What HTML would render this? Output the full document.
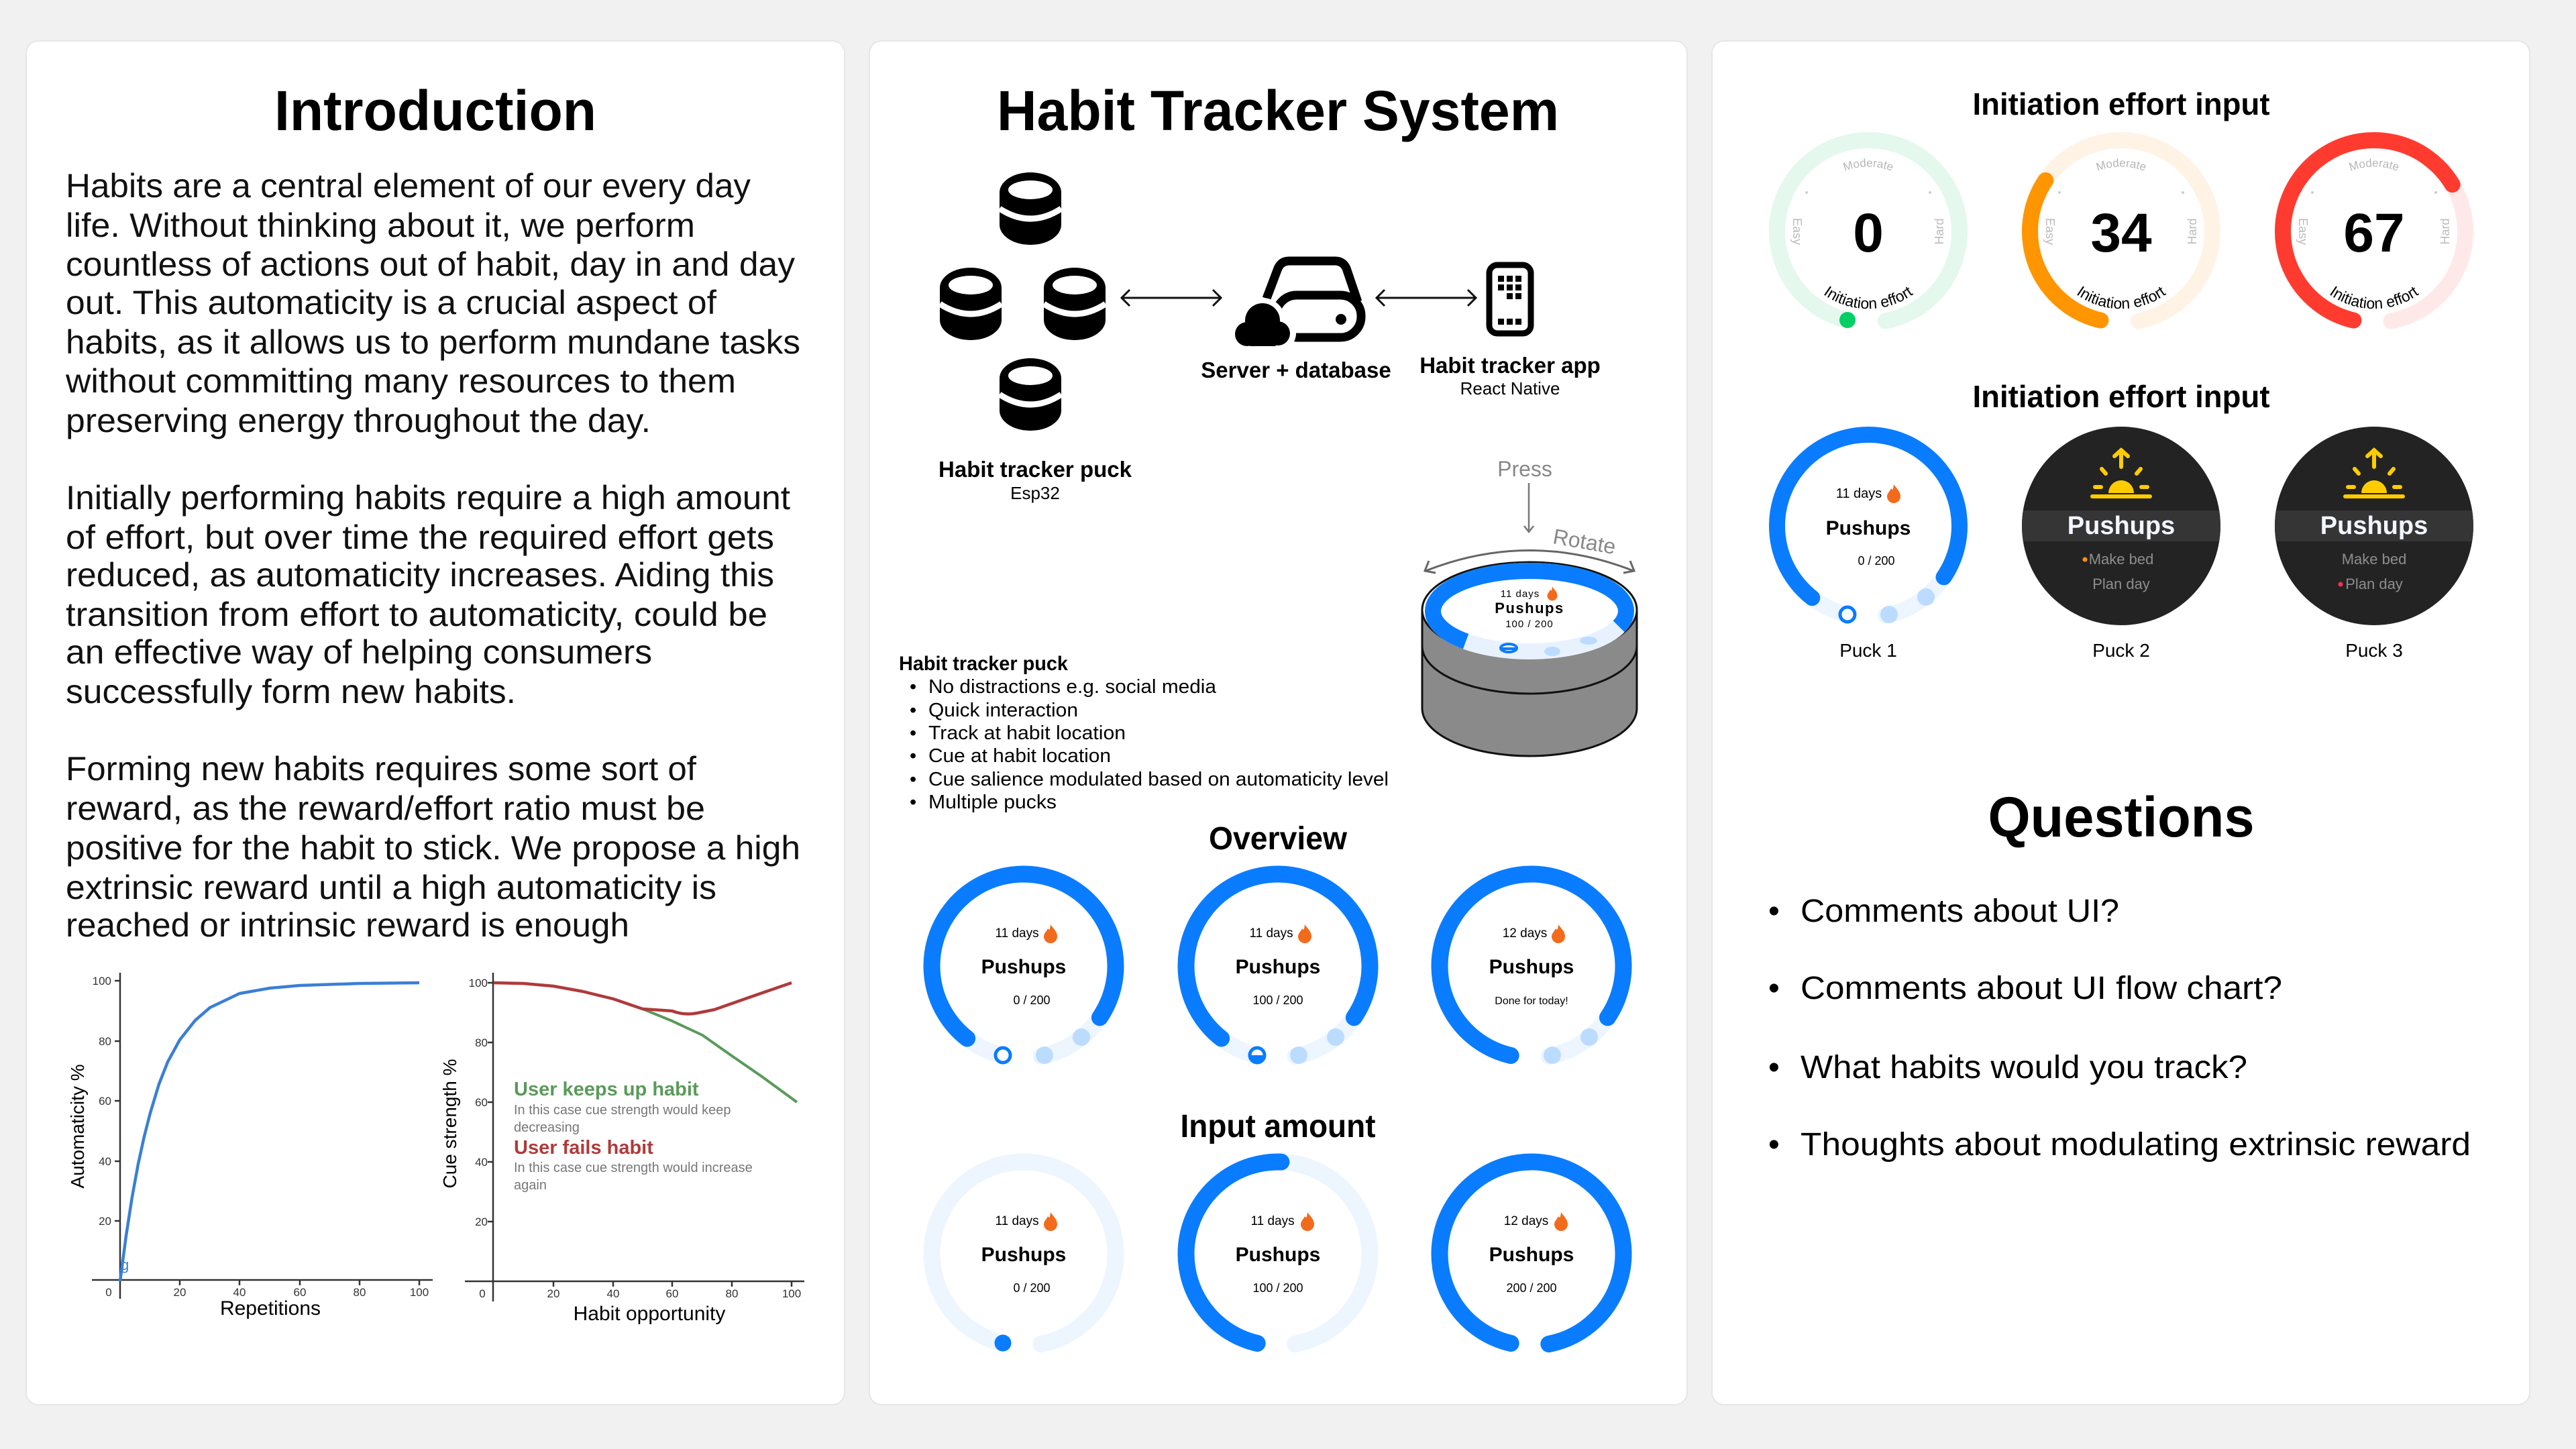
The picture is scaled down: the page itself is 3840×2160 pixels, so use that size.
<!DOCTYPE html>
<html><head><meta charset="utf-8">
<style>
html,body{margin:0;padding:0;background:#f1f1f1;}
svg{display:block;font-family:"Liberation Sans",sans-serif;}
</style></head>
<body>
<svg width="3840" height="2160" viewBox="0 0 3840 2160" xmlns="http://www.w3.org/2000/svg">
<defs>
<path id="flame" d="M0,-14 C3,-9 10,-4 10,4 A10 10 0 0 1 -10 4 C-10,-1 -6,-3 -4,-8 C-2,-5 -1,-5 0,-14Z" fill="#f26b1d"/>
<g id="db">
 <rect x="-46" y="-54" width="92" height="108" rx="46" ry="30" fill="#000"/>
 <ellipse cx="0" cy="-28" rx="33" ry="14" fill="#fff"/>
 <path d="M-46,0 Q0,30 46,0" stroke="#fff" stroke-width="9" fill="none"/>
</g>
<clipPath id="cp"><circle cx="0" cy="0" r="148"/></clipPath>
</defs>

<rect width="3840" height="2160" fill="#f1f1f1"/>
<rect x="39" y="61" width="1220" height="2033" rx="18" fill="#fff" stroke="#e6e6e6" stroke-width="2"/>
<rect x="1296" y="61" width="1219" height="2033" rx="18" fill="#fff" stroke="#e6e6e6" stroke-width="2"/>
<rect x="2552" y="61" width="1219" height="2033" rx="18" fill="#fff" stroke="#e6e6e6" stroke-width="2"/>

<!-- PANEL 1 -->
<text x="649" y="194" font-size="84" font-weight="bold" text-anchor="middle" textLength="480" lengthAdjust="spacingAndGlyphs">Introduction</text>
<g font-size="50" fill="#111">
<text x="98" y="294" textLength="1021" lengthAdjust="spacingAndGlyphs">Habits are a central element of our every day</text>
<text x="98" y="353" textLength="938" lengthAdjust="spacingAndGlyphs">life. Without thinking about it, we perform</text>
<text x="98" y="411" textLength="1087" lengthAdjust="spacingAndGlyphs">countless of actions out of habit, day in and day</text>
<text x="98" y="468" textLength="970" lengthAdjust="spacingAndGlyphs">out. This automaticity is a crucial aspect of</text>
<text x="98" y="527" textLength="1095" lengthAdjust="spacingAndGlyphs">habits, as it allows us to perform mundane tasks</text>
<text x="98" y="585" textLength="999" lengthAdjust="spacingAndGlyphs">without committing many resources to them</text>
<text x="98" y="644" textLength="872" lengthAdjust="spacingAndGlyphs">preserving energy throughout the day.</text>
<text x="98" y="759" textLength="1080" lengthAdjust="spacingAndGlyphs">Initially performing habits require a high amount</text>
<text x="98" y="818" textLength="1056" lengthAdjust="spacingAndGlyphs">of effort, but over time the required effort gets</text>
<text x="98" y="874" textLength="1056" lengthAdjust="spacingAndGlyphs">reduced, as automaticity increases. Aiding this</text>
<text x="98" y="933" textLength="1046" lengthAdjust="spacingAndGlyphs">transition from effort to automaticity, could be</text>
<text x="98" y="989" textLength="874" lengthAdjust="spacingAndGlyphs">an effective way of helping consumers</text>
<text x="98" y="1048" textLength="671" lengthAdjust="spacingAndGlyphs">successfully form new habits.</text>
<text x="98" y="1163" textLength="940" lengthAdjust="spacingAndGlyphs">Forming new habits requires some sort of</text>
<text x="98" y="1222" textLength="953" lengthAdjust="spacingAndGlyphs">reward, as the reward/effort ratio must be</text>
<text x="98" y="1281" textLength="1095" lengthAdjust="spacingAndGlyphs">positive for the habit to stick. We propose a high</text>
<text x="98" y="1340" textLength="970" lengthAdjust="spacingAndGlyphs">extrinsic reward until a high automaticity is</text>
<text x="98" y="1396" textLength="840" lengthAdjust="spacingAndGlyphs">reached or intrinsic reward is enough</text>
</g>

<!-- Left chart -->
<g stroke="#333" stroke-width="2.5" fill="none">
<line x1="179" y1="1450" x2="179" y2="1936"/>
<line x1="137" y1="1908" x2="645" y2="1908"/>
<line x1="171" y1="1462" x2="179" y2="1462"/><line x1="171" y1="1552" x2="179" y2="1552"/><line x1="171" y1="1641" x2="179" y2="1641"/><line x1="171" y1="1731" x2="179" y2="1731"/><line x1="171" y1="1820" x2="179" y2="1820"/>
<line x1="268" y1="1908" x2="268" y2="1916"/><line x1="357" y1="1908" x2="357" y2="1916"/><line x1="447" y1="1908" x2="447" y2="1916"/><line x1="536" y1="1908" x2="536" y2="1916"/><line x1="625" y1="1908" x2="625" y2="1916"/>
</g>
<g font-size="17" fill="#333" text-anchor="end">
<text x="166" y="1468">100</text><text x="166" y="1558">80</text><text x="166" y="1647">60</text><text x="166" y="1737">40</text><text x="166" y="1826">20</text>
</g>
<g font-size="17" fill="#333" text-anchor="middle">
<text x="162" y="1932">0</text><text x="268" y="1932">20</text><text x="357" y="1932">40</text><text x="447" y="1932">60</text><text x="536" y="1932">80</text><text x="625" y="1932">100</text>
</g>
<path d="M179,1910 L188,1842 L197,1784 L206,1735 L215,1694 L224,1659 L237,1616 L250,1583 L268,1550 L291,1521 L313,1502 L357,1481 L402,1473 L447,1469 L536,1466 L625,1465" stroke="#3a7fd5" stroke-width="4.5" fill="none" stroke-linejoin="round"/>
<text x="180" y="1893" font-size="22" fill="#3a7fd5">g</text>
<text transform="translate(125,1679) rotate(-90)" font-size="28" text-anchor="middle">Automaticity %</text>
<text x="403" y="1960" font-size="30" text-anchor="middle">Repetitions</text>

<!-- Right chart -->
<g stroke="#333" stroke-width="2.5" fill="none">
<line x1="735" y1="1450" x2="735" y2="1940"/>
<line x1="693" y1="1910" x2="1199" y2="1910"/>
<line x1="727" y1="1465" x2="735" y2="1465"/><line x1="727" y1="1554" x2="735" y2="1554"/><line x1="727" y1="1643" x2="735" y2="1643"/><line x1="727" y1="1732" x2="735" y2="1732"/><line x1="727" y1="1821" x2="735" y2="1821"/>
<line x1="825" y1="1910" x2="825" y2="1918"/><line x1="914" y1="1910" x2="914" y2="1918"/><line x1="1002" y1="1910" x2="1002" y2="1918"/><line x1="1091" y1="1910" x2="1091" y2="1918"/><line x1="1180" y1="1910" x2="1180" y2="1918"/>
</g>
<g font-size="17" fill="#333" text-anchor="end">
<text x="727" y="1471">100</text><text x="727" y="1560">80</text><text x="727" y="1649">60</text><text x="727" y="1738">40</text><text x="727" y="1827">20</text>
</g>
<g font-size="17" fill="#333" text-anchor="middle">
<text x="719" y="1934">0</text><text x="825" y="1934">20</text><text x="914" y="1934">40</text><text x="1002" y="1934">60</text><text x="1091" y="1934">80</text><text x="1180" y="1934">100</text>
</g>
<path d="M736,1465 L780,1466 L825,1470 L869,1478 L914,1489 L958,1504 L1002,1522 L1047,1543 L1091,1574 L1136,1605 L1188,1643" stroke="#5a9a5a" stroke-width="4" fill="none" stroke-linejoin="round"/>
<path d="M736,1465 L780,1466 L825,1470 L869,1478 L914,1489 L958,1504 L1002,1507 Q1020,1514 1040,1510 L1065,1505 L1122,1485 L1180,1465" stroke="#b03a3a" stroke-width="4.5" fill="none" stroke-linejoin="round"/>
<text x="766" y="1633" font-size="29" font-weight="bold" fill="#5a9a5a">User keeps up habit</text>
<text x="766" y="1661" font-size="20" fill="#777">In this case cue strength would keep</text>
<text x="766" y="1687" font-size="20" fill="#777">decreasing</text>
<text x="766" y="1720" font-size="29" font-weight="bold" fill="#b03a3a">User fails habit</text>
<text x="766" y="1747" font-size="20" fill="#777">In this case cue strength would increase</text>
<text x="766" y="1773" font-size="20" fill="#777">again</text>
<text transform="translate(680,1675) rotate(-90)" font-size="28" text-anchor="middle">Cue strength %</text>
<text x="968" y="1968" font-size="30" text-anchor="middle">Habit opportunity</text>

<!-- PANEL 2 -->
<text x="1905" y="194" font-size="84" font-weight="bold" text-anchor="middle" textLength="838" lengthAdjust="spacingAndGlyphs">Habit Tracker System</text>
<use href="#db" x="1536" y="311"/>
<use href="#db" x="1447" y="453"/>
<use href="#db" x="1602" y="453"/>
<use href="#db" x="1536" y="588"/>
<g stroke="#111" stroke-width="3" fill="none">
<line x1="1672" y1="444" x2="1820" y2="444"/>
<polyline points="1684,432 1672,444 1684,456"/><polyline points="1808,432 1820,444 1808,456"/>
<line x1="2052" y1="444" x2="2200" y2="444"/>
<polyline points="2064,432 2052,444 2064,456"/><polyline points="2188,432 2200,444 2188,456"/>
</g>
<!-- server icon -->
<g>
<path d="M1888,445 L1905,400 Q1910,389 1922,389 L1990,389 Q2002,389 2007,400 L2024,450" stroke="#000" stroke-width="13" fill="none" stroke-linejoin="round"/>
<rect x="1902" y="440" width="127" height="63" rx="31" fill="#fff" stroke="#000" stroke-width="13"/>
<circle cx="1999" cy="476" r="8" fill="#000"/>
<g fill="#fff">
<circle cx="1882" cy="478" r="34"/><circle cx="1857" cy="498" r="26"/><circle cx="1906" cy="497" r="26"/>
</g>
<g fill="#000">
<circle cx="1882" cy="478" r="26"/><circle cx="1859" cy="498" r="18"/><circle cx="1905" cy="497" r="18"/>
<rect x="1859" y="490" width="46" height="26" rx="6"/>
</g>
</g>
<!-- phone -->
<rect x="2220" y="395" width="62" height="102" rx="12" fill="none" stroke="#000" stroke-width="9"/>
<g fill="#000">
<rect x="2233" y="411" width="9" height="9"/><rect x="2246" y="411" width="9" height="9"/><rect x="2259" y="411" width="9" height="9"/>
<rect x="2233" y="424" width="9" height="9"/><rect x="2246" y="424" width="9" height="9"/><rect x="2259" y="424" width="9" height="9"/>
<rect x="2246" y="437" width="9" height="9"/><rect x="2259" y="437" width="9" height="9"/>
<rect x="2233" y="475" width="9" height="9"/><rect x="2246" y="475" width="9" height="9"/><rect x="2259" y="475" width="9" height="9"/>
</g>
<text x="1932" y="563" font-size="33" font-weight="bold" text-anchor="middle">Server + database</text>
<text x="2251" y="556" font-size="33" font-weight="bold" text-anchor="middle">Habit tracker app</text>
<text x="2251" y="588" font-size="26" text-anchor="middle">React Native</text>
<text x="1543" y="711" font-size="33" font-weight="bold" text-anchor="middle">Habit tracker puck</text>
<text x="1543" y="744" font-size="26" text-anchor="middle">Esp32</text>

<text x="2273" y="710" font-size="32" fill="#888" text-anchor="middle">Press</text>
<line x1="2279" y1="720" x2="2279" y2="792" stroke="#777" stroke-width="2.5"/>
<polyline points="2272,784 2279,793 2286,784" stroke="#777" stroke-width="2.5" fill="none"/>
<text transform="translate(2360,818) rotate(10)" font-size="32" fill="#888" text-anchor="middle">Rotate</text>
<path d="M2125,851 Q2280,790 2435,851" stroke="#666" stroke-width="3" fill="none"/>
<polyline points="2130,836 2124,851 2140,854" stroke="#666" stroke-width="3" fill="none"/>
<polyline points="2430,836 2436,851 2420,854" stroke="#666" stroke-width="3" fill="none"/>

<!-- cylinder -->
<path d="M2120,909 L2120,1056 A160 71 0 0 0 2440,1056 L2440,909 Z" fill="#8a8a8a" stroke="#111" stroke-width="3"/>
<path d="M2120,963 A160 71 0 0 0 2440,963" fill="none" stroke="#111" stroke-width="3"/>
<ellipse cx="2280" cy="909" rx="160" ry="71" fill="#fff" stroke="#111" stroke-width="3"/>
<ellipse cx="2280" cy="911" rx="144" ry="60" fill="none" stroke="#e8f2ff" stroke-width="24"/>
<ellipse cx="2280" cy="911" rx="144" ry="60" fill="none" stroke="#0a7cff" stroke-width="24" pathLength="360" stroke-dasharray="232 128" stroke-dashoffset="-142"/>
<ellipse cx="2249" cy="966" rx="12" ry="6" fill="#fff" stroke="#0a7cff" stroke-width="4"/>
<rect x="2239" y="965" width="20" height="4" fill="#0a7cff"/>
<ellipse cx="2314" cy="971" rx="12" ry="7" fill="#bcdcff"/>
<ellipse cx="2368" cy="955" rx="13" ry="6" fill="#bcdcff"/>
<text x="2266" y="890" font-size="15" text-anchor="middle" letter-spacing="1">11 days</text>
<use href="#flame" transform="translate(2314,885) scale(0.75)"/>
<text x="2280" y="914" font-size="22" font-weight="bold" text-anchor="middle" letter-spacing="1.5">Pushups</text>
<text x="2280" y="935" font-size="15" text-anchor="middle" letter-spacing="1">100 / 200</text>

<text x="1340" y="999" font-size="30" font-weight="bold" textLength="252" lengthAdjust="spacingAndGlyphs">Habit tracker puck</text>
<g font-size="29">
<text x="1356" y="1033">•</text><text x="1384" y="1033" textLength="429" lengthAdjust="spacingAndGlyphs">No distractions e.g. social media</text>
<text x="1356" y="1068">•</text><text x="1384" y="1068" textLength="223" lengthAdjust="spacingAndGlyphs">Quick interaction</text>
<text x="1356" y="1102">•</text><text x="1384" y="1102" textLength="294" lengthAdjust="spacingAndGlyphs">Track at habit location</text>
<text x="1356" y="1136">•</text><text x="1384" y="1136" textLength="272" lengthAdjust="spacingAndGlyphs">Cue at habit location</text>
<text x="1356" y="1171">•</text><text x="1384" y="1171" textLength="686" lengthAdjust="spacingAndGlyphs">Cue salience modulated based on automaticity level</text>
<text x="1356" y="1205">•</text><text x="1384" y="1205" textLength="191" lengthAdjust="spacingAndGlyphs">Multiple pucks</text>
</g>

<text x="1905" y="1266" font-size="48" font-weight="bold" text-anchor="middle" textLength="206" lengthAdjust="spacingAndGlyphs">Overview</text>
<text x="1905" y="1695" font-size="48" font-weight="bold" text-anchor="middle" textLength="291" lengthAdjust="spacingAndGlyphs">Input amount</text>

<!-- Overview gauges -->
<g transform="translate(1526,1440)">
<circle r="137" fill="none" stroke="#edf5ff" stroke-width="25" stroke-linecap="round" stroke-dasharray="107.6 2000" transform="rotate(34)"/>
<circle r="137" fill="none" stroke="#edf5ff" stroke-width="25" stroke-linecap="round" stroke-dasharray="59.8 2000" transform="rotate(103)"/>
<circle r="137" fill="none" stroke="#0a7cff" stroke-width="25" stroke-linecap="round" stroke-dasharray="636 2000" transform="rotate(128)"/>
<circle cx="-31" cy="133" r="11" fill="#fff" stroke="#0a7cff" stroke-width="5"/>
<circle cx="31" cy="133" r="13" fill="#bcdcff"/><circle cx="86" cy="106" r="13" fill="#bcdcff"/>
<text x="-10" y="-43" font-size="19" text-anchor="middle">11 days</text><use href="#flame" x="40" y="-48"/>
<text y="11" font-size="30" font-weight="bold" text-anchor="middle">Pushups</text>
<text x="12" y="57" font-size="18" text-anchor="middle">0 / 200</text>
</g>
<g transform="translate(1905,1440)">
<circle r="137" fill="none" stroke="#edf5ff" stroke-width="25" stroke-linecap="round" stroke-dasharray="107.6 2000" transform="rotate(34)"/>
<circle r="137" fill="none" stroke="#edf5ff" stroke-width="25" stroke-linecap="round" stroke-dasharray="59.8 2000" transform="rotate(103)"/>
<circle r="137" fill="none" stroke="#0a7cff" stroke-width="25" stroke-linecap="round" stroke-dasharray="636 2000" transform="rotate(128)"/>
<circle cx="-31" cy="133" r="11" fill="#fff" stroke="#0a7cff" stroke-width="5"/>
<path d="M-42,133 A11 11 0 0 0 -20,133 Z" fill="#0a7cff"/>
<circle cx="31" cy="133" r="13" fill="#bcdcff"/><circle cx="86" cy="106" r="13" fill="#bcdcff"/>
<text x="-10" y="-43" font-size="19" text-anchor="middle">11 days</text><use href="#flame" x="40" y="-48"/>
<text y="11" font-size="30" font-weight="bold" text-anchor="middle">Pushups</text>
<text y="57" font-size="18" text-anchor="middle">100 / 200</text>
</g>
<g transform="translate(2283,1440)">
<circle r="137" fill="none" stroke="#edf5ff" stroke-width="25" stroke-linecap="round" stroke-dasharray="107.6 2000" transform="rotate(34)"/>
<circle r="137" fill="none" stroke="#0a7cff" stroke-width="25" stroke-linecap="round" stroke-dasharray="695.8 2000" transform="rotate(103)"/>
<circle cx="31" cy="133" r="13" fill="#bcdcff"/><circle cx="86" cy="106" r="13" fill="#bcdcff"/>
<text x="-10" y="-43" font-size="19" text-anchor="middle">12 days</text><use href="#flame" x="40" y="-48"/>
<text y="11" font-size="30" font-weight="bold" text-anchor="middle">Pushups</text>
<text y="57" font-size="16" text-anchor="middle">Done for today!</text>
</g>
<!-- Input gauges -->
<g transform="translate(1526,1869)">
<circle r="137" fill="none" stroke="#edf5ff" stroke-width="25" stroke-linecap="round" stroke-dasharray="803.4 2000" transform="rotate(103)"/>
<circle cx="-31" cy="133" r="12.5" fill="#0a7cff"/>
<text x="-10" y="-43" font-size="19" text-anchor="middle">11 days</text><use href="#flame" x="40" y="-48"/>
<text y="11" font-size="30" font-weight="bold" text-anchor="middle">Pushups</text>
<text x="12" y="57" font-size="18" text-anchor="middle">0 / 200</text>
</g>
<g transform="translate(1905,1869)">
<circle r="137" fill="none" stroke="#edf5ff" stroke-width="25" stroke-linecap="round" stroke-dasharray="803.4 2000" transform="rotate(103)"/>
<circle r="137" fill="none" stroke="#0a7cff" stroke-width="25" stroke-linecap="round" stroke-dasharray="404 2000" transform="rotate(103)"/>
<text x="-8" y="-43" font-size="19" text-anchor="middle">11 days</text><use href="#flame" x="44" y="-48"/>
<text y="11" font-size="30" font-weight="bold" text-anchor="middle">Pushups</text>
<text y="57" font-size="18" text-anchor="middle">100 / 200</text>
</g>
<g transform="translate(2283,1869)">
<circle r="137" fill="none" stroke="#0a7cff" stroke-width="25" stroke-linecap="round" stroke-dasharray="803.4 2000" transform="rotate(103)"/>
<text x="-8" y="-43" font-size="19" text-anchor="middle">12 days</text><use href="#flame" x="44" y="-48"/>
<text y="11" font-size="30" font-weight="bold" text-anchor="middle">Pushups</text>
<text y="57" font-size="18" text-anchor="middle">200 / 200</text>
</g>

<!-- PANEL 3 -->
<text x="3162" y="171" font-size="46" font-weight="bold" text-anchor="middle" textLength="443" lengthAdjust="spacingAndGlyphs">Initiation effort input</text>
<text x="3162" y="607" font-size="46" font-weight="bold" text-anchor="middle" textLength="443" lengthAdjust="spacingAndGlyphs">Initiation effort input</text>

<g transform="translate(2785,345)">
<circle r="136" fill="none" stroke="#e4f8ed" stroke-width="24" stroke-linecap="round" stroke-dasharray="797.5 2000" transform="rotate(103)"/>
<circle cx="-31" cy="132" r="12" fill="#00cf66"/>
<path id="m1" d="M-58,-77 A96 96 0 0 1 58,-77" fill="none"/>
<text font-size="17" fill="#b5b5b5"><textPath href="#m1" startOffset="50%" text-anchor="middle">Moderate</textPath></text>
<path id="b1" d="M-100,57 A115 115 0 0 0 100,57" fill="none"/>
<text font-size="23"><textPath href="#b1" startOffset="50%" text-anchor="middle">Initiation effort</textPath></text>
<text transform="translate(-112,0) rotate(90)" font-size="18" fill="#bbb" text-anchor="middle">Easy</text>
<text transform="translate(112,0) rotate(-90)" font-size="18" fill="#bbb" text-anchor="middle">Hard</text>
<circle cx="-92" cy="-58" r="2" fill="#ccc"/><circle cx="92" cy="-58" r="2" fill="#ccc"/>
<text y="30" font-size="82" font-weight="bold" text-anchor="middle">0</text>
</g>
<g transform="translate(3162,345)">
<circle r="136" fill="none" stroke="#fff3e6" stroke-width="24" stroke-linecap="round" stroke-dasharray="797.5 2000" transform="rotate(103)"/>
<circle r="136" fill="none" stroke="#ff9500" stroke-width="24" stroke-linecap="round" stroke-dasharray="263.5 2000" transform="rotate(103)"/>
<path id="m2" d="M-58,-77 A96 96 0 0 1 58,-77" fill="none"/>
<text font-size="17" fill="#b5b5b5"><textPath href="#m2" startOffset="50%" text-anchor="middle">Moderate</textPath></text>
<path id="b2" d="M-100,57 A115 115 0 0 0 100,57" fill="none"/>
<text font-size="23"><textPath href="#b2" startOffset="50%" text-anchor="middle">Initiation effort</textPath></text>
<text transform="translate(-112,0) rotate(90)" font-size="18" fill="#bbb" text-anchor="middle">Easy</text>
<text transform="translate(112,0) rotate(-90)" font-size="18" fill="#bbb" text-anchor="middle">Hard</text>
<circle cx="-92" cy="-58" r="2" fill="#ccc"/><circle cx="92" cy="-58" r="2" fill="#ccc"/>
<text y="30" font-size="82" font-weight="bold" text-anchor="middle">34</text>
</g>
<g transform="translate(3539,345)">
<circle r="136" fill="none" stroke="#ffe9e8" stroke-width="24" stroke-linecap="round" stroke-dasharray="797.5 2000" transform="rotate(103)"/>
<circle r="136" fill="none" stroke="#ff3b30" stroke-width="24" stroke-linecap="round" stroke-dasharray="536.4 2000" transform="rotate(103)"/>
<path id="m3" d="M-58,-77 A96 96 0 0 1 58,-77" fill="none"/>
<text font-size="17" fill="#b5b5b5"><textPath href="#m3" startOffset="50%" text-anchor="middle">Moderate</textPath></text>
<path id="b3" d="M-100,57 A115 115 0 0 0 100,57" fill="none"/>
<text font-size="23"><textPath href="#b3" startOffset="50%" text-anchor="middle">Initiation effort</textPath></text>
<text transform="translate(-112,0) rotate(90)" font-size="18" fill="#bbb" text-anchor="middle">Easy</text>
<text transform="translate(112,0) rotate(-90)" font-size="18" fill="#bbb" text-anchor="middle">Hard</text>
<circle cx="-92" cy="-58" r="2" fill="#ccc"/><circle cx="92" cy="-58" r="2" fill="#ccc"/>
<text y="30" font-size="82" font-weight="bold" text-anchor="middle">67</text>
</g>

<!-- Pucks -->
<g transform="translate(2785,784)">
<circle r="136" fill="none" stroke="#edf5ff" stroke-width="24" stroke-linecap="round" stroke-dasharray="106.8 2000" transform="rotate(34)"/>
<circle r="136" fill="none" stroke="#edf5ff" stroke-width="24" stroke-linecap="round" stroke-dasharray="59.3 2000" transform="rotate(103)"/>
<circle r="136" fill="none" stroke="#0a7cff" stroke-width="24" stroke-linecap="round" stroke-dasharray="631.4 2000" transform="rotate(128)"/>
<circle cx="-31" cy="132" r="11" fill="#fff" stroke="#0a7cff" stroke-width="5"/>
<circle cx="31" cy="132" r="13" fill="#bcdcff"/><circle cx="86" cy="106" r="13" fill="#bcdcff"/>
<text x="-14" y="-42" font-size="20" text-anchor="middle">11 days</text><use href="#flame" x="38" y="-48"/>
<text y="13" font-size="30" font-weight="bold" text-anchor="middle">Pushups</text>
<text x="12" y="58" font-size="18" text-anchor="middle">0 / 200</text>
</g>
<g transform="translate(3162,784)">
<circle r="148" fill="#232323"/>
<rect x="-150" y="-23" width="300" height="46" fill="#353535" clip-path="url(#cp)"/>
<g stroke="#ffcc00" stroke-width="6" stroke-linecap="round" fill="none">
<line x1="-43" y1="-44" x2="43" y2="-44"/>
<line x1="-39" y1="-58" x2="-30" y2="-58"/><line x1="30" y1="-58" x2="39" y2="-58"/>
<line x1="-29" y1="-85" x2="-23" y2="-78"/><line x1="29" y1="-85" x2="23" y2="-78"/>
<line x1="0" y1="-88" x2="0" y2="-113"/><polyline points="-10,-104 0,-113 10,-104"/>
</g>
<path d="M-19,-49 A19 19 0 0 1 19,-49 Z" fill="#ffcc00"/>
<text y="12" font-size="38" font-weight="bold" fill="#f2f6ff" text-anchor="middle">Pushups</text>
<circle cx="-54" cy="50" r="3.5" fill="#ff9500"/>
<text y="57" font-size="22" fill="#8e8e8e" text-anchor="middle">Make bed</text>
<text y="94" font-size="22" fill="#8e8e8e" text-anchor="middle">Plan day</text>
</g>
<g transform="translate(3539,784)">
<circle r="148" fill="#232323"/>
<rect x="-150" y="-23" width="300" height="46" fill="#353535" clip-path="url(#cp)"/>
<g stroke="#ffcc00" stroke-width="6" stroke-linecap="round" fill="none">
<line x1="-43" y1="-44" x2="43" y2="-44"/>
<line x1="-39" y1="-58" x2="-30" y2="-58"/><line x1="30" y1="-58" x2="39" y2="-58"/>
<line x1="-29" y1="-85" x2="-23" y2="-78"/><line x1="29" y1="-85" x2="23" y2="-78"/>
<line x1="0" y1="-88" x2="0" y2="-113"/><polyline points="-10,-104 0,-113 10,-104"/>
</g>
<path d="M-19,-49 A19 19 0 0 1 19,-49 Z" fill="#ffcc00"/>
<text y="12" font-size="38" font-weight="bold" fill="#f2f6ff" text-anchor="middle">Pushups</text>
<text y="57" font-size="22" fill="#8e8e8e" text-anchor="middle">Make bed</text>
<circle cx="-50" cy="87" r="3.5" fill="#ff2d55"/>
<text y="94" font-size="22" fill="#8e8e8e" text-anchor="middle">Plan day</text>
</g>
<g font-size="28" text-anchor="middle">
<text x="2785" y="979">Puck 1</text><text x="3162" y="979">Puck 2</text><text x="3539" y="979">Puck 3</text>
</g>

<text x="3162" y="1247" font-size="84" font-weight="bold" text-anchor="middle" textLength="397" lengthAdjust="spacingAndGlyphs">Questions</text>
<g font-size="48">
<text x="2636" y="1374">•</text><text x="2684" y="1374" textLength="475" lengthAdjust="spacingAndGlyphs">Comments about UI?</text>
<text x="2636" y="1489">•</text><text x="2684" y="1489" textLength="718" lengthAdjust="spacingAndGlyphs">Comments about UI flow chart?</text>
<text x="2636" y="1607">•</text><text x="2684" y="1607" textLength="666" lengthAdjust="spacingAndGlyphs">What habits would you track?</text>
<text x="2636" y="1722">•</text><text x="2684" y="1722" textLength="999" lengthAdjust="spacingAndGlyphs">Thoughts about modulating extrinsic reward</text>
</g>
</svg>
</body></html>
